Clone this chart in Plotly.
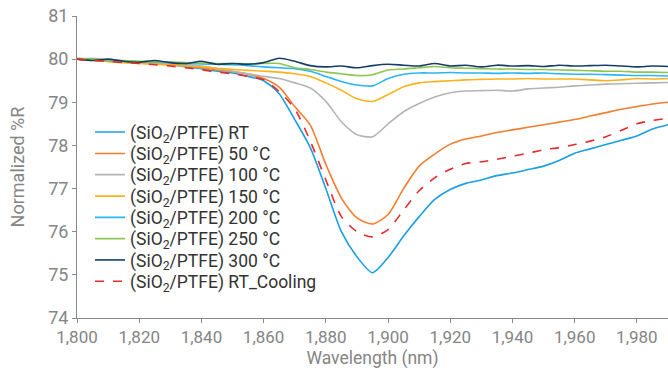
import plotly.graph_objects as go

wavelength = [1800, 1805, 1810, 1815, 1820, 1825, 1830, 1835, 1840, 1845,
              1850, 1855, 1860, 1865, 1870, 1875, 1880, 1885, 1890, 1895,
              1900, 1905, 1910, 1915, 1920, 1925, 1930, 1935, 1940, 1945,
              1950, 1955, 1960, 1965, 1970, 1975, 1980, 1985, 1990]

r_rt = [80.00, 79.98, 79.95, 79.93, 79.92, 79.90, 79.87, 79.82, 79.78, 79.72,
        79.68, 79.60, 79.50, 79.20, 78.60, 77.95, 77.00, 76.00, 75.42, 75.05,
        75.40, 75.90, 76.35, 76.75, 76.98, 77.12, 77.20, 77.30, 77.36, 77.44,
        77.52, 77.65, 77.82, 77.92, 78.02, 78.12, 78.22, 78.38, 78.48]

r_50 = [80.00, 79.98, 79.96, 79.93, 79.92, 79.90, 79.88, 79.85, 79.80, 79.75,
        79.71, 79.65, 79.55, 79.35, 78.90, 78.47, 77.56, 76.78, 76.32, 76.18,
        76.40, 77.00, 77.52, 77.80, 78.03, 78.15, 78.22, 78.30, 78.36, 78.42,
        78.48, 78.54, 78.60, 78.68, 78.76, 78.84, 78.90, 78.96, 79.00]

r_100 = [80.00, 80.02, 79.98, 79.96, 79.94, 79.92, 79.90, 79.87, 79.84, 79.78,
         79.72, 79.66, 79.60, 79.55, 79.45, 79.33, 79.02, 78.55, 78.25, 78.20,
         78.50, 78.78, 78.97, 79.12, 79.22, 79.26, 79.27, 79.28, 79.26, 79.31,
         79.33, 79.35, 79.38, 79.40, 79.42, 79.43, 79.44, 79.45, 79.46]

r_150 = [80.00, 79.97, 79.94, 79.92, 79.90, 79.88, 79.86, 79.84, 79.82, 79.79,
         79.76, 79.74, 79.72, 79.70, 79.66, 79.60, 79.45, 79.28, 79.08, 79.02,
         79.18, 79.36, 79.45, 79.48, 79.50, 79.52, 79.53, 79.54, 79.54, 79.55,
         79.54, 79.54, 79.54, 79.52, 79.50, 79.52, 79.55, 79.54, 79.55]

r_200 = [80.00, 79.99, 79.97, 79.95, 79.94, 79.93, 79.92, 79.90, 79.89, 79.88,
         79.87, 79.85, 79.82, 79.80, 79.78, 79.72, 79.60, 79.48, 79.40, 79.38,
         79.55, 79.65, 79.68, 79.68, 79.69, 79.68, 79.68, 79.67, 79.68, 79.67,
         79.68, 79.66, 79.65, 79.65, 79.64, 79.63, 79.62, 79.62, 79.61]

r_250 = [80.02, 80.00, 79.98, 79.97, 79.95, 79.94, 79.93, 79.92, 79.91, 79.90,
         79.90, 79.89, 79.90, 79.90, 79.80, 79.76, 79.70, 79.66, 79.62, 79.64,
         79.75, 79.77, 79.80, 79.83, 79.80, 79.79, 79.78, 79.77, 79.77, 79.76,
         79.76, 79.75, 79.74, 79.73, 79.72, 79.72, 79.70, 79.70, 79.69]

r_300 = [80.00, 79.97, 80.00, 79.95, 79.93, 79.97, 79.92, 79.90, 79.95, 79.88,
         79.90, 79.88, 79.92, 80.02, 79.95, 79.85, 79.82, 79.84, 79.80, 79.85,
         79.88, 79.86, 79.84, 79.90, 79.84, 79.86, 79.82, 79.86, 79.84, 79.85,
         79.83, 79.86, 79.84, 79.85, 79.86, 79.84, 79.82, 79.84, 79.83]

r_cool = [80.00, 79.97, 79.95, 79.92, 79.90, 79.87, 79.84, 79.80, 79.75, 79.70,
          79.66, 79.60, 79.52, 79.25, 78.85, 78.10, 77.20, 76.35, 76.00, 75.88,
          76.05, 76.50, 76.95, 77.25, 77.45, 77.58, 77.62, 77.68, 77.75, 77.82,
          77.90, 77.95, 78.02, 78.10, 78.20, 78.35, 78.50, 78.58, 78.63]

series = [
    ("(SiO<sub>2</sub>/PTFE) RT", r_rt, "#1b9fe2", "solid"),
    ("(SiO<sub>2</sub>/PTFE) 50 °C", r_50, "#f47e2e", "solid"),
    ("(SiO<sub>2</sub>/PTFE) 100 °C", r_100, "#b4b4b4", "solid"),
    ("(SiO<sub>2</sub>/PTFE) 150 °C", r_150, "#fbb21c", "solid"),
    ("(SiO<sub>2</sub>/PTFE) 200 °C", r_200, "#29b6f2", "solid"),
    ("(SiO<sub>2</sub>/PTFE) 250 °C", r_250, "#8dc653", "solid"),
    ("(SiO<sub>2</sub>/PTFE) 300 °C", r_300, "#173f66", "solid"),
    ("(SiO<sub>2</sub>/PTFE) RT_Cooling", r_cool, "#e52a2a", "dash"),
]

# legend row centres, in pixels from the top of the figure
legend_rows_px = [132.3, 153.7, 174.9, 196.4, 217.7, 239.0, 260.3, 281.7]
plot_top, plot_bottom = 16.0, 318.3

fig = go.Figure()
layout_legends = {}
for i, (name, vals, color, dash) in enumerate(series):
    key = "legend" if i == 0 else f"legend{i + 1}"
    fig.add_trace(go.Scatter(x=wavelength, y=vals, mode="lines", name=name,
                             legend=key,
                             line=dict(color=color, width=1.6, dash=dash,
                                       shape="spline", smoothing=0.7)))
    ypos = (plot_bottom - legend_rows_px[i]) / (plot_bottom - plot_top)
    layout_legends[key] = dict(
        x=0.022, y=ypos, xanchor="left", yanchor="middle",
        bgcolor="rgba(0,0,0,0)",
        font=dict(family="Roboto", size=17.5, color="#333333"))

axis_color = "#8a8a8a"
text_gray = "#858585"

fig.update_layout(
    width=668, height=376,
    margin=dict(l=77, r=0, t=16, b=58),
    paper_bgcolor="white", plot_bgcolor="white",
    font=dict(family="Roboto"),
    showlegend=True,
    xaxis=dict(range=[1800, 1990], dtick=20, tick0=1800, tickformat=",",
               showgrid=False, zeroline=False, showline=True, linecolor=axis_color,
               linewidth=1, ticks="outside", ticklen=4, tickcolor=axis_color,
               tickfont=dict(family="Roboto", size=17, color=text_gray),
               title=dict(text="Wavelength (nm)",
                          font=dict(family="Roboto", size=17.5, color=text_gray),
                          standoff=5)),
    yaxis=dict(range=[74, 81], dtick=1, tick0=74,
               showgrid=False, zeroline=False, showline=True, linecolor=axis_color,
               linewidth=1, ticks="outside", ticklen=4, tickcolor=axis_color,
               tickfont=dict(family="Roboto", size=18, color=text_gray),
               title=dict(text="Normalized %R",
                          font=dict(family="Roboto", size=18, color=text_gray),
                          standoff=18)),
)
fig.update_layout(**layout_legends)

fig.write_html("out.html")
